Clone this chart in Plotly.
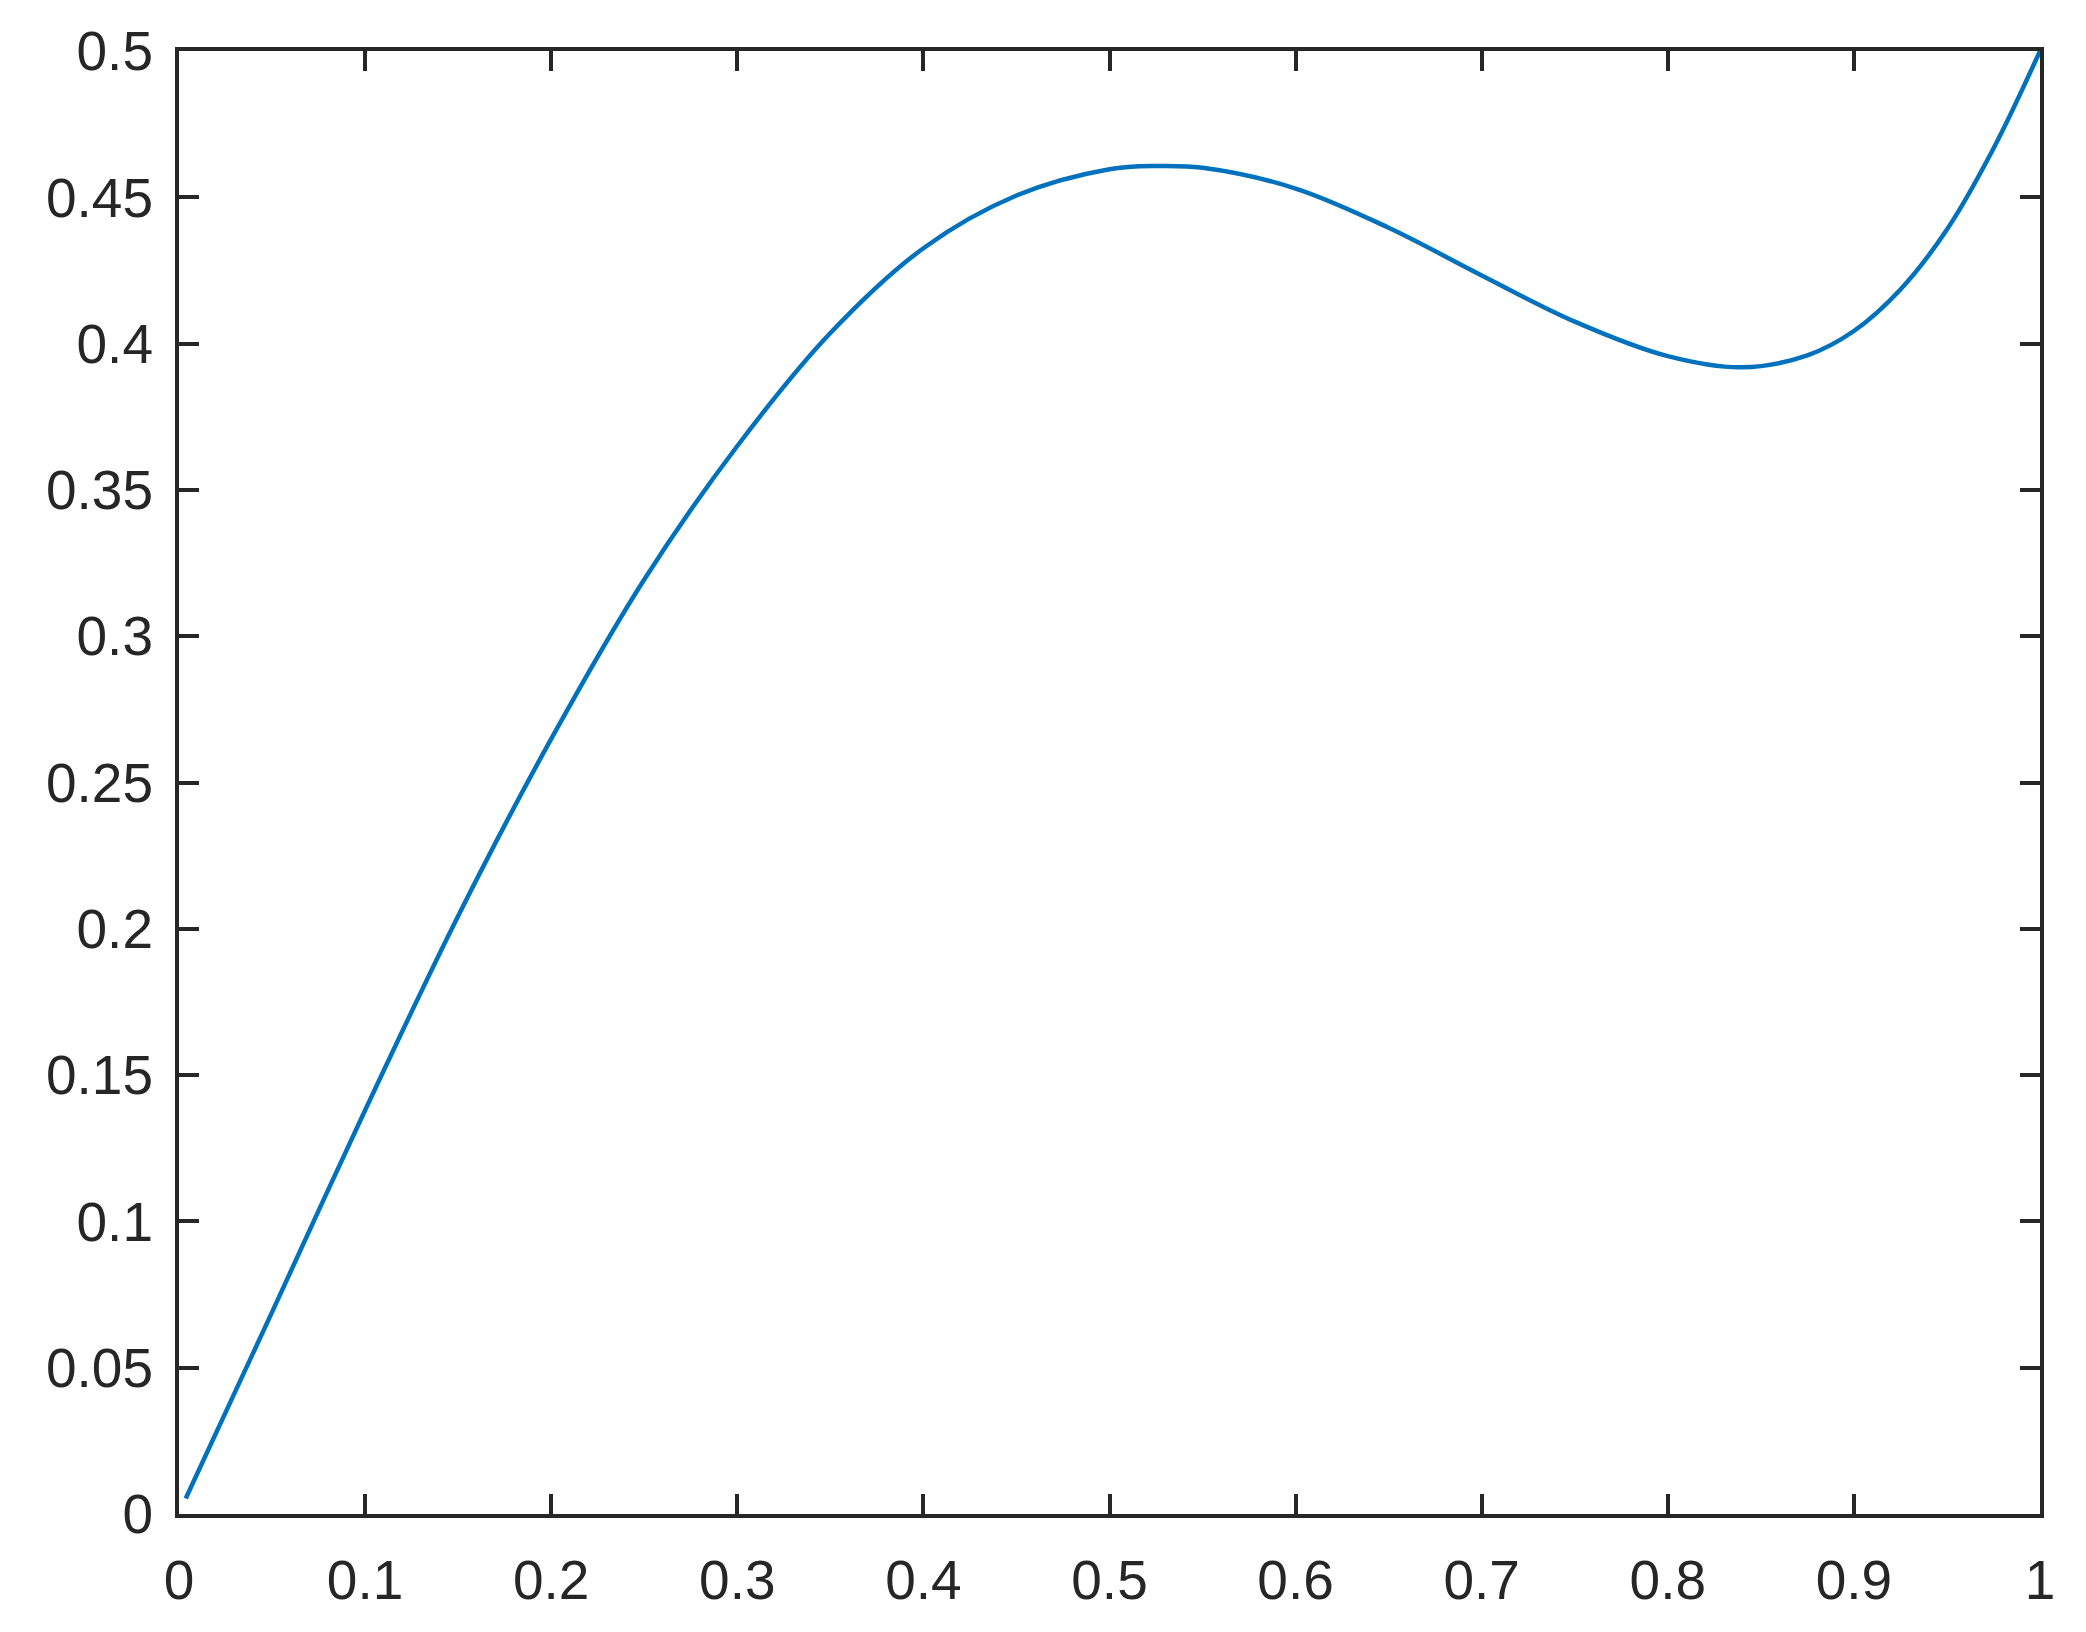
import plotly.graph_objects as go

x_vals = [0.0036, 0.05, 0.10, 0.15, 0.20, 0.25, 0.30, 0.35, 0.40, 0.45,
          0.50, 0.525, 0.55, 0.60, 0.65, 0.70, 0.75, 0.80, 0.84, 0.875,
          0.90, 0.925, 0.95, 0.975, 1.0]
y_vals = [0.0053, 0.0690, 0.1380, 0.2044, 0.2649, 0.3194, 0.3650, 0.4036, 0.4326, 0.4506,
          0.4596, 0.4607, 0.4601, 0.4530, 0.4396, 0.4233, 0.4075, 0.3957, 0.3919, 0.3960,
          0.4043, 0.4185, 0.4390, 0.4667, 0.5000]

x_ticks = [0, 0.1, 0.2, 0.3, 0.4, 0.5, 0.6, 0.7, 0.8, 0.9, 1]
x_ticklabels = ["0", "0.1", "0.2", "0.3", "0.4", "0.5", "0.6", "0.7", "0.8", "0.9", "1"]
y_ticks = [0, 0.05, 0.1, 0.15, 0.2, 0.25, 0.3, 0.35, 0.4, 0.45, 0.5]
y_ticklabels = ["0", "0.05", "0.1", "0.15", "0.2", "0.25", "0.3", "0.35", "0.4", "0.45", "0.5"]

fig = go.Figure()
fig.add_trace(go.Scatter(
    x=x_vals, y=y_vals, mode="lines",
    line=dict(color="#0072BD", width=4.5, shape="spline", smoothing=1.0),
    showlegend=False, hoverinfo="skip"))

axis_common = dict(
    showline=True, linecolor="#262626", linewidth=4, mirror="allticks",
    ticks="inside", ticklen=20, tickwidth=4, tickcolor="#262626",
    showgrid=False, zeroline=False,
    tickfont=dict(family="Liberation Sans, Arial, Helvetica, sans-serif", size=55, color="#262626"),
)

fig.update_xaxes(range=[0, 1], tickvals=x_ticks, ticktext=x_ticklabels,
                 ticklabelstandoff=15, **axis_common)
fig.update_yaxes(range=[0, 0.5], tickvals=y_ticks, ticktext=y_ticklabels,
                 ticklabelstandoff=11, **axis_common)

fig.update_layout(
    width=2086, height=1632, autosize=False,
    margin=dict(l=171, r=54, t=36, b=126, pad=0),
    paper_bgcolor="white", plot_bgcolor="white",
)

fig.write_html("out.html")
